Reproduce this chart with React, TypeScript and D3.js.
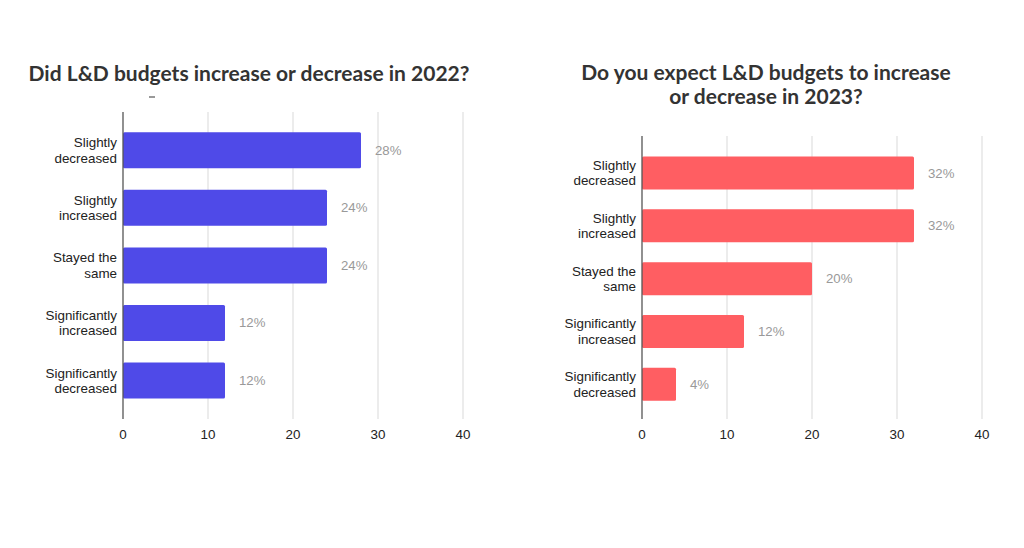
import React from "react";
import * as d3 from "d3";

// survey answers, top to bottom as drawn
const categories2022 = [
  ["Slightly", "decreased"],
  ["Slightly", "increased"],
  ["Stayed the", "same"],
  ["Significantly", "increased"],
  ["Significantly", "decreased"],
];
const values2022 = [28, 24, 24, 12, 12];

const categories2023 = [
  ["Slightly", "decreased"],
  ["Slightly", "increased"],
  ["Stayed the", "same"],
  ["Significantly", "increased"],
  ["Significantly", "decreased"],
];
const values2023 = [32, 32, 20, 12, 4];

const xTicks = [0, 10, 20, 30, 40];

const title2022 = ["Did L&D budgets increase or decrease in 2022?"];
const title2023 = ["Do you expect L&D budgets to increase", "or decrease in 2023?"];

interface PanelProps {
  title: string[];
  titleX: number;
  titleY: number;
  labels: string[][];
  values: number[];
  color: string;
  x0: number;
  x1: number;
  axisTop: number;
  axisBottom: number;
  bandTop: number;
  bandBottom: number;
}

const labelFont = "'Liberation Sans', Arial, sans-serif";

function Panel(props: PanelProps) {
  const x = d3.scaleLinear().domain([0, 40]).range([props.x0, props.x1]);
  const keys = props.labels.map((l, i) => l.join(" ") + "|" + i);
  const y = d3
    .scaleBand<string>()
    .domain(keys)
    .range([props.bandTop, props.bandBottom])
    .paddingInner(0.375)
    .paddingOuter(0.1875);

  return (
    <g>
      {props.title.map((t, i) => (
        <text
          key={i}
          x={props.titleX}
          y={props.titleY + i * 24}
          textAnchor="middle"
          fontFamily="Lato, sans-serif"
          fontWeight="bold"
          fontSize={21}
          fill="#333"
        >
          {t}
        </text>
      ))}
      {xTicks.filter((t) => t > 0).map((t) => (
        <line
          key={t}
          x1={x(t)}
          x2={x(t)}
          y1={props.axisTop}
          y2={props.axisBottom}
          stroke="#d9d9d9"
          strokeWidth={1}
        />
      ))}
      {props.values.map((v, i) => (
        <rect
          key={i}
          x={x(0)}
          y={y(keys[i])}
          width={x(v) - x(0)}
          height={y.bandwidth()}
          rx={1.5}
          fill={props.color}
        />
      ))}
      <line
        x1={x(0)}
        x2={x(0)}
        y1={props.axisTop}
        y2={props.axisBottom}
        stroke="#555"
        strokeWidth={1.3}
      />
      {props.values.map((v, i) => (
        <text
          key={i}
          x={x(v) + 14}
          y={(y(keys[i]) as number) + y.bandwidth() / 2 + 4.5}
          fontFamily={labelFont}
          fontSize={13.2}
          fill="#999"
        >
          {v}%
        </text>
      ))}
      {props.labels.map((lines, i) => (
        <text
          key={i}
          x={x(0) - 6}
          y={(y(keys[i]) as number) + y.bandwidth() / 2}
          textAnchor="end"
          fontFamily={labelFont}
          fontSize={13.4}
          fill="#222"
        >
          <tspan x={x(0) - 6} dy={-3}>{lines[0]}</tspan>
          <tspan x={x(0) - 6} dy={15.4}>{lines[1]}</tspan>
        </text>
      ))}
      {xTicks.map((t) => (
        <text
          key={t}
          x={x(t)}
          y={props.axisBottom + 19.5}
          textAnchor="middle"
          fontFamily={labelFont}
          fontSize={13.4}
          fill="#222"
        >
          {t}
        </text>
      ))}
    </g>
  );
}

export default function App() {
  return (
    <svg
      width={1024}
      height={548}
      style={{ position: "absolute", left: 0, top: 0, background: "#fff" }}
    >
      <rect width={1024} height={548} fill="#fff" />
      <Panel
        title={title2022}
        titleX={249}
        titleY={81}
        labels={categories2022}
        values={values2022}
        color="#4F4AE8"
        x0={123}
        x1={463}
        axisTop={112}
        axisBottom={419}
        bandTop={121.5}
        bandBottom={409.3}
      />
      <line x1={149} x2={155} y1={97} y2={97} stroke="#555" strokeWidth={1.2} />
      <Panel
        title={title2023}
        titleX={766}
        titleY={80}
        labels={categories2023}
        values={values2023}
        color="#FF5E62"
        x0={642}
        x1={982}
        axisTop={136}
        axisBottom={419}
        bandTop={146.6}
        bandBottom={410.7}
      />
    </svg>
  );
}
